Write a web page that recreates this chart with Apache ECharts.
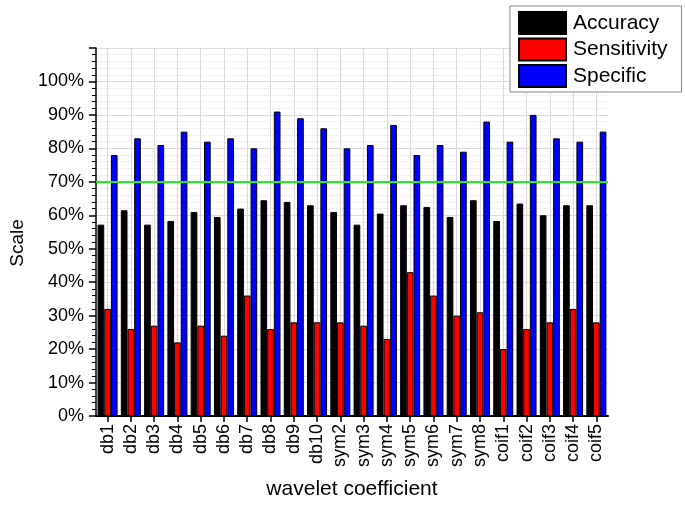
<!DOCTYPE html>
<html>
<head>
<meta charset="utf-8">
<script src="https://cdn.jsdelivr.net/npm/echarts@6/dist/echarts.min.js"></script>
<style>html,body{margin:0;padding:0;background:#fff}#c{width:685px;height:505px}</style>
</head>
<body>
<div id="c"></div>
<script>
const categories = ['db1','db2','db3','db4','db5','db6','db7','db8','db9','db10','sym2','sym3','sym4','sym5','sym6','sym7','sym8','coif1','coif2','coif3','coif4','coif5'];
const accuracy = [57.2,61.5,57.2,58.3,61,59.5,62,64.5,64,63,61,57.2,60.5,63,62.5,59.5,64.5,58.3,63.5,60,63,63];
const sensitivity = [32,26,27,22,27,24,36,26,28,28,28,27,23,43,36,30,31,20,26,28,32,28];
const specific = [78,83,81,85,82,83,80,91,89,86,80,81,87,78,81,79,88,82,90,83,82,85];
const threshold = 70;
const yTicks = {min: 0, max: 110, interval: 10};

const font = 'Liberation Sans, Arial, sans-serif';
const chart = echarts.init(document.getElementById('c'), null, {renderer: 'canvas'});
const barStyle = c => ({color: c, borderColor: '#000', borderWidth: 1});
chart.setOption({
  animation: false,
  textStyle: {fontFamily: font},
  grid: {left: 94, right: 77, top: 48, bottom: 87, containLabel: false},
  legend: {
    orient: 'vertical', left: 510, top: 6,
    itemWidth: 47, itemHeight: 22, itemGap: 2.5,
    padding: [5, 14, 4, 8],
    backgroundColor: '#fff', borderColor: '#888', borderWidth: 1,
    icon: 'rect',
    textStyle: {fontSize: 21, lineHeight: 22, color: '#000', fontFamily: font, padding: [0, 0, 0, 2]},
    data: ['Accuracy', 'Sensitivity', 'Specific']
  },
  xAxis: {
    type: 'category', data: categories,
    name: 'wavelet coefficient', nameLocation: 'middle', nameGap: 63,
    nameTextStyle: {fontSize: 21, color: '#000', fontFamily: font},
    axisLine: {lineStyle: {color: '#000', width: 2}},
    axisTick: {show: true, alignWithLabel: true, length: 6, lineStyle: {color: '#000', width: 1.5}},
    axisLabel: {rotate: 90, fontSize: 18, color: '#000', margin: 8, fontFamily: font, interval: 0},
    splitLine: {show: true, alignWithLabel: true, lineStyle: {color: '#dadada', width: 1}}
  },
  yAxis: {
    type: 'value', min: yTicks.min, max: yTicks.max, interval: yTicks.interval,
    name: 'Scale', nameLocation: 'middle', nameGap: 66,
    nameTextStyle: {fontSize: 19, color: '#000', fontFamily: font, padding: [0, 22, 0, 0]},
    axisLine: {show: true, lineStyle: {color: '#000', width: 1.5}},
    axisTick: {show: true, length: 7, lineStyle: {color: '#000', width: 1.5}},
    minorTick: {show: true, splitNumber: 5, length: 4, lineStyle: {color: '#000', width: 1}},
    axisLabel: {fontSize: 18, color: '#000', margin: 12, fontFamily: font,
      formatter: v => v > 100 ? '' : v + '%'},
    splitLine: {show: true, lineStyle: {color: '#dadada', width: 1}},
    minorSplitLine: {show: true, lineStyle: {color: '#e4e4e4', width: 1, type: 'dotted'}}
  },
  series: [
    {name: 'Accuracy', type: 'bar', data: accuracy, barGap: '0%', barCategoryGap: '14%', itemStyle: barStyle('#000'),
     markLine: {silent: true, symbol: 'none', label: {show: false}, lineStyle: {color: '#22ee22', width: 2, type: 'solid'}, data: [{yAxis: threshold}]}},
    {name: 'Sensitivity', type: 'bar', data: sensitivity, barGap: '0%', barCategoryGap: '14%', itemStyle: barStyle('#ff0000')},
    {name: 'Specific', type: 'bar', data: specific, barGap: '0%', barCategoryGap: '14%', itemStyle: barStyle('#0000ff')}
  ]
});
</script>
</body>
</html>
